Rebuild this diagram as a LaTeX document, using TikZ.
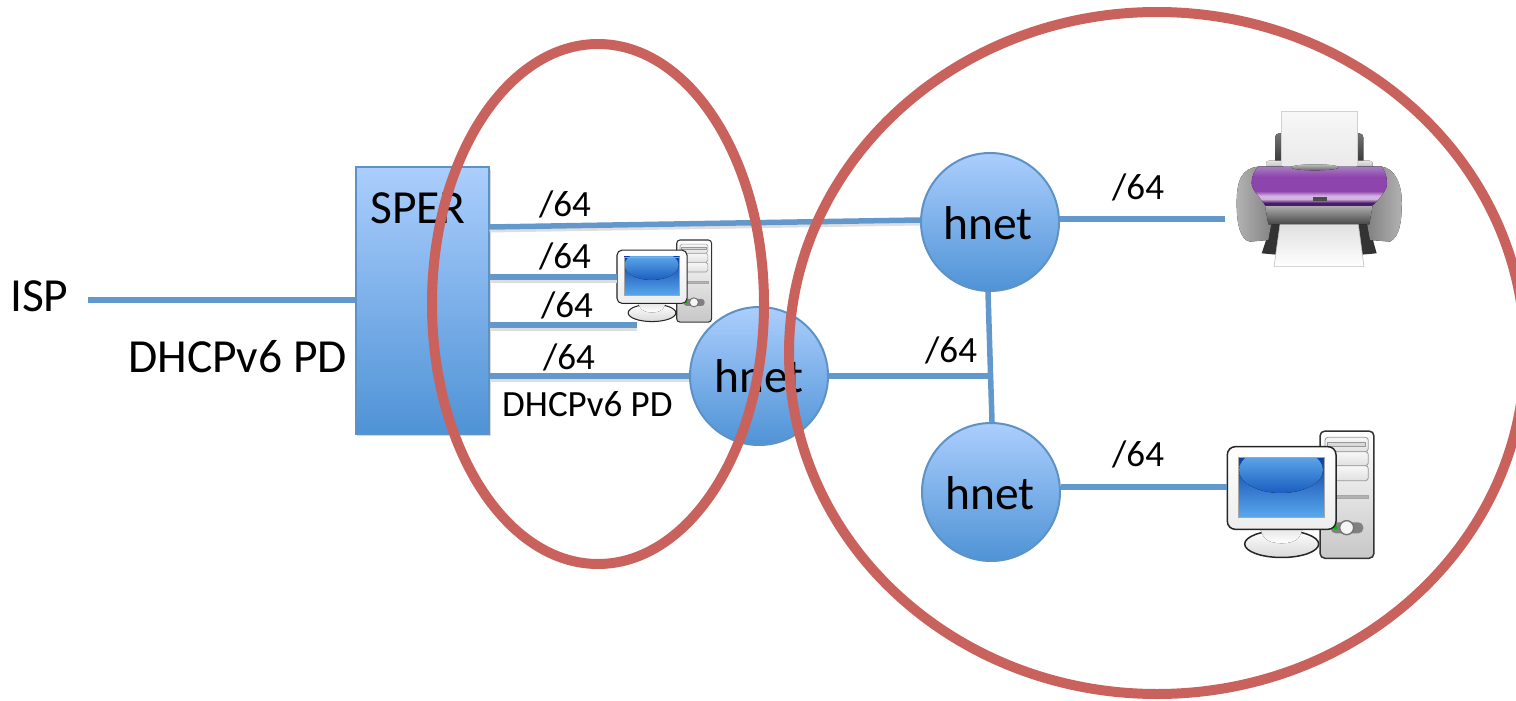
\documentclass[tikz,border=0pt]{standalone}
\usepackage{fontspec}
\setmainfont{Carlito}
\definecolor{ringred}{HTML}{C9625C}
\definecolor{linkblue}{HTML}{6298CB}
\definecolor{edgeblue}{HTML}{5C92C6}
\definecolor{fillhi}{HTML}{ABCEFD}
\definecolor{filllo}{HTML}{4F93D6}
\definecolor{scrA}{HTML}{0A3FA8}
\definecolor{scrB}{HTML}{5AA8EE}
\definecolor{scrC}{HTML}{6DB8F2}
\definecolor{scrD}{HTML}{1A5EC0}
\definecolor{pDark}{HTML}{4A1C68}
\definecolor{pMid}{HTML}{8E44AD}
\definecolor{pLight}{HTML}{D4B2E2}
\definecolor{pTop}{HTML}{A77EC0}
\pgfdeclareverticalshading{purpleband}{100bp}{color(0bp)=(pDark); color(25bp)=(pDark); color(29bp)=(pDark); color(34bp)=(pLight); color(38bp)=(pLight); color(44bp)=(pMid); color(62bp)=(pMid); color(75bp)=(pTop); color(100bp)=(pTop)}
\tikzset{
  big/.style={font=\fontsize{47.5}{50}\selectfont,inner sep=0pt,text=black},
  small/.style={font=\fontsize{37}{40}\selectfont,inner sep=0pt,text=black},
  routerbox/.style={draw=edgeblue,line width=2pt,top color=fillhi,bottom color=filllo,minimum width=133pt,minimum height=267pt,inner sep=0pt},
  hnetnode/.style={circle,draw=edgeblue,line width=2pt,top color=fillhi,bottom color=filllo,minimum size=138pt,inner sep=0pt,big},
  icon/.style={inner sep=0pt,draw=none},
  linkshadow/.style={line width=3pt,draw=black!13},
  link/.style={line width=5.5pt,draw=linkblue},
  ring/.style={line width=10pt,draw=ringred},
}
\newcommand{\pcicon}[4]{%
\begin{scope}[shift={(#1,#2)},x=#3*0.3333pt,y=-#3*0.3333pt,line width=#4*1.5pt]
  \draw[draw=black!80,top color=white,bottom color=black!22,rounded corners=#3*5pt] (330,33) rectangle (492,415);
  \foreach \yA/\yB in {52/95,95/137,137/182}{
    \draw[draw=black!40,top color=black!3,bottom color=black!12,rounded corners=#3*3pt,line width=#4*.8pt] (345,\yA) rectangle (475,\yB);}
  \draw[draw=black!40,fill=black!15,line width=#4*.6pt] (352,68) rectangle (465,78);
  \draw[draw=black!35,fill=black!30,line width=#4*.6pt] (380,225) rectangle (475,236);
  \fill[black!50,rounded corners=#3*5pt] (362,307) rectangle (460,340);
  \draw[draw=black!55,fill=black!4,line width=#4*1.4pt] (410,323) circle (#3*7pt);
  \fill[green!75!black] (377,323) circle (#3*2pt);
  \draw[draw=black!85,top color=white,bottom color=black!15] (215,372) ellipse (#3*37pt and #3*13.5pt);
  \fill[top color=black!10,bottom color=white] (150,325) -- (278,325) .. controls (270,352) and (265,368) .. (215,370) .. controls (165,368) and (160,352) .. (150,325) -- cycle;
  \draw[draw=black!85,top color=white,bottom color=black!7,rounded corners=#3*8pt] (52,80) rectangle (378,328);
  \begin{scope}
    \clip (85,112) rectangle (343,292);
    \fill[top color=scrA,bottom color=scrB] (85,112) rectangle (343,292);
    \fill[top color=scrC,bottom color=scrD] (213,150) ellipse (#3*42pt and #3*23pt);
  \end{scope}
  \draw[draw=black!35,line width=#4*.7pt] (85,112) rectangle (343,292);
\end{scope}}
\begin{document}
\begin{tikzpicture}[x=1pt,y=-1pt]
\useasboundingbox (0,0) rectangle (1516,701);
\clip (0,0) rectangle (1516,701);
% icons
\node[icon,minimum width=95pt,minimum height=82pt] (pcsmall) at (664.5,281) {};
\node[icon,minimum width=148pt,minimum height=127pt] (pcbig) at (1301,494.5) {};
\node[icon,minimum width=177pt,minimum height=158pt] (printer) at (1313.5,191) {};
\coordinate (ispend) at (88,300);
\coordinate (stub) at (637,325);
\pcicon{605.8}{232.9}{.645}{.7}
\pcicon{1210}{420}{1}{1}
% printer
\begin{scope}[shift={(1200,90)},x=0.3333pt,y=-0.3333pt]
  \fill[top color=black!55,bottom color=black!85,rounded corners=4pt] (225,130) rectangle (490,245);
  \fill[top color=black!10,bottom color=black!40,rounded corners=3pt] (198,212) rectangle (518,250);
  \draw[draw=black!18,line width=.6pt,top color=black!3,bottom color=black!9] (243,65) rectangle (472,245);
  \fill[black!80] (185,490) -- (215,400) -- (505,400) -- (530,490) -- (475,495) -- (240,495) -- cycle;
  % silver sides
  \fill[left color=black!30,middle color=black!6,right color=black!55] (175,230) .. controls (125,235) and (110,270) .. (110,340) .. controls (110,400) and (120,450) .. (150,455) -- (205,450) -- (225,340) -- (250,230) -- cycle;
  \fill[left color=black!55,middle color=black!6,right color=black!30] (545,230) .. controls (580,235) and (600,270) .. (605,320) .. controls (607,390) and (600,440) .. (570,455) -- (510,450) -- (490,340) -- (470,230) -- cycle;
  \fill[top color=black!30,bottom color=black!72] (195,345) -- (518,345) -- (508,403) -- (205,403) -- cycle;
  \fill[shading=purpleband] (175,230) -- (545,230) .. controls (560,250) and (565,280) .. (558,295) .. controls (545,320) and (525,340) .. (515,348) -- (197,348) .. controls (180,320) and (155,300) .. (155,280) .. controls (155,255) and (165,240) .. (175,230) -- cycle;
  \fill[top color=black!25,bottom color=black!60] (345,232) ellipse (24pt and 3pt);
  \fill[black!70] (338,320) rectangle (382,332);
  \draw[draw=black!25,line width=.6pt,top color=black!12,bottom color=white] (240,404) -- (475,404) -- (492,530) -- (222,530) -- cycle;
\end{scope}
% router and hnets
\fill[black!15] (357,170) rectangle (491,436);
\node[routerbox] (sper) at (422,300) {};
\node[big,anchor=base] (spertext) at (418,223) {SPER};
\node[hnetnode] (h2) at (759,376) {};
\node[hnetnode] (h1) at (990,222) {};
\node[hnetnode] (h3) at (991,492) {};
\coordinate (junction) at (990,376);
% connectors
\draw[linkshadow] ([yshift=-4pt]sper.east |- 0,227) -- ([yshift=-4pt]h1.west |- 0,220);
\draw[linkshadow] ([yshift=-4pt]sper.east |- 0,277) -- ([yshift=-4pt]pcsmall.west |- 0,277);
\draw[linkshadow] ([yshift=-4pt]sper.east |- 0,325) -- ([yshift=-4pt]stub);
\draw[linkshadow] ([yshift=-4pt]sper.east |- 0,376) -- ([yshift=-4pt]h2.west |- 0,376);
\draw[link] (ispend) -- (sper.west |- ispend);
\draw[link] (sper.east |- 0,227) -- (h1.west |- 0,220);
\draw[link] (sper.east |- 0,277) -- (pcsmall.west |- 0,277);
\draw[link] (sper.east |- stub) -- (stub);
\draw[link] (sper.east |- 0,376) -- (h2.west |- 0,376);
\draw[link] (h2.east |- 0,376) -- (junction);
\draw[link] ([xshift=-2pt]h1.south) -- ([xshift=1pt]h3.north);
\draw[link] (h1.east |- 0,219) -- (printer.west |- 0,219);
\draw[link] (h3.east |- 0,487) -- (pcbig.west |- 0,487);
% labels
\node[big,anchor=base west] (isp) at (10,311) {ISP};
\node[big,anchor=base west] (pdbig) at (128,372) {DHCPv6 PD};
\node[small,anchor=base west] (l1) at (539,216) {/64};
\node[small,anchor=base west] (l2) at (539,268) {/64};
\node[small,anchor=base west] (l3) at (541,317) {/64};
\node[small,anchor=base west] (l4) at (543,369) {/64};
\node[small,anchor=base west] (pdsmall) at (502,416) {DHCPv6 PD};
\node[small,anchor=base west] (l5) at (925,362) {/64};
\node[small,anchor=base west] (l6) at (1112,199) {/64};
\node[small,anchor=base west] (l7) at (1112,466) {/64};
\node[big] (t1) at (988,223) {hnet};
\node[big] (t2) at (759,376) {hnet};
\node[big] (t3) at (990,493) {hnet};
% rings
\draw[ring] (598,304) ellipse (166pt and 260pt);
\draw[ring] (1157,353) ellipse (368pt and 341pt);
\end{tikzpicture}
\end{document}
